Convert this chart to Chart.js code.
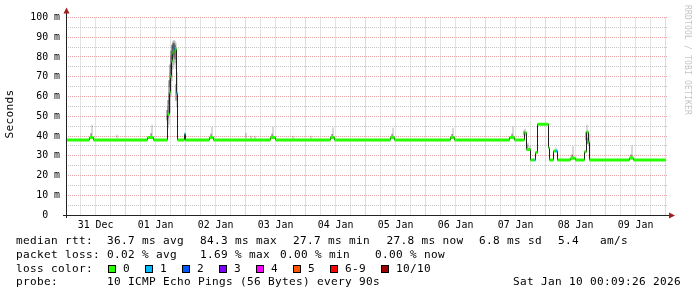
<!DOCTYPE html>
<html>
<head>
<meta charset="utf-8">
<script src="https://cdn.jsdelivr.net/npm/chart.js@4.4.1/dist/chart.umd.min.js"></script>
<style>
  html, body { margin: 0; padding: 0; background: #fff; }
  canvas { display: block; }
</style>
</head>
<body>
<canvas id="rtt" width="697" height="297"></canvas>
<script>
// times are hours since 31 Dec 00:00, values in ms
const startTime = 0.157;
const endTime = 240.157;
const lastSample = 239.96;

const dayLabels = ['31 Dec', '01 Jan', '02 Jan', '03 Jan', '04 Jan', '05 Jan', '06 Jan', '07 Jan', '08 Jan', '09 Jan'];

// median rtt, each value holds until the next time
const medianTime = [0.16, 9.56, 11.16, 32.76, 35.16,
  40.76, 41.56, 41.96, 42.36, 42.76, 43.16, 43.56, 43.96, 44.36, 44.76,
  47.56, 47.96, 57.56, 59.16, 81.96, 83.96, 105.96, 107.56, 129.96, 131.56,
  153.96, 155.56, 177.56, 179.56,
  183.56, 184.36, 185.96, 187.56, 187.96, 188.76, 193.16, 193.56, 195.16, 195.96, 196.76,
  201.96, 203.96, 207.56, 208.36, 209.16, 209.56, 225.56, 227.16];
const medianValue = [38, 39.3, 38, 39.3, 38,
  51, 62, 70, 78, 82, 83, 84.3, 84, 61.6, 38,
  41, 38, 39.3, 38, 39.3, 38, 39.3, 38, 39.3, 38,
  39.3, 38, 39.3, 38,
  41.7, 33.2, 27.8, 27.8, 31.6, 46, 34, 27.8, 32.4, 32.4, 27.8,
  28.7, 27.8, 32, 42, 37, 27.8, 28.8, 27.8];
const medianLoss = [0, 0, 0, 0, 0,
  0, 0, 0, 0, 0, 0, 1, 0, 1, 0,
  1, 0, 0, 0, 0, 0, 0, 0, 0, 0,
  0, 0, 0, 0,
  0, 0, 0, 1, 0, 0, 0, 0, 0, 1, 0,
  0, 0, 0, 0, 0, 0, 0, 0];

// smoke (spread of the pings)
const smokeTime = [10.36, 34.36, 58.36, 82.76, 106.76, 130.76, 154.76, 178.76, 202.76, 226.36,
  40.76, 41.16, 41.56, 41.96, 42.36, 42.76, 43.16, 43.56, 43.96, 44.36,
  20.36, 71.96, 73.96, 75.56, 90.76, 97.96,
  183.56, 184.76, 185.56, 195.96, 208.36, 209.16];
const smokeMin = [38.5, 38.5, 38.5, 38.5, 38.5, 38.5, 38.5, 38.5, 28.3, 28.3,
  44, 46, 52, 60, 68, 74, 76, 77, 74, 55,
  39, 39, 38.5, 38.5, 38.5, 38.5,
  40, 33, 33, 32, 36, 35];
const smokeMax = [45.5, 45.5, 44.4, 44.4, 44.2, 44, 44, 44.7, 34.6, 35,
  55, 62, 72, 80, 86, 88, 88.5, 88, 87, 72,
  40.5, 41.5, 40, 40, 40, 40,
  43.5, 36.5, 35, 34, 45.5, 41];
const smokeLow = [38.8, 38.8, 38.8, 38.8, 38.8, 38.8, 38.8, 38.8, 28.4, 28.4,
  48, 49, 56, 65, 72, 78, 80, 81, 79, 58,
  null, null, null, null, null, null,
  40.5, 33.5, null, null, 38, 36];
const smokeHigh = [41.2, 41.2, 41, 41, 40.8, 40.8, 40.8, 41, 30.5, 30.5,
  53, 58, 68, 76, 83, 86, 87, 87, 86, 66,
  null, null, null, null, null, null,
  42.5, 35.5, null, null, 42, 39];

const lossLabels = ['0', '1', '2', '3', '4', '5', '6-9', '10/10'];
const lossColors = ['#26ff00', '#00b8ff', '#0059ff', '#7e00ff', '#ff00ff', '#ff5500', '#ff0000', '#a00000'];

const yTicks = [0, 10, 20, 30, 40, 50, 60, 70, 80, 90, 100];

// data for the library
const medianLine = medianTime.map((t, i) => ({ x: t, y: medianValue[i] }));
medianLine.push({ x: lastSample, y: medianValue[medianValue.length - 1] });

const band = [];
medianTime.forEach((t, i) => {
  const t1 = i + 1 < medianTime.length ? medianTime[i + 1] : lastSample;
  band.push({ x: t, y: medianValue[i], loss: medianLoss[i] });
  band.push({ x: t1, y: medianValue[i], loss: medianLoss[i] });
});

const smokeOuter = smokeTime.map((t, i) => ({ x: t, y: [smokeMin[i], smokeMax[i]] }));
const smokeInner = [];
smokeTime.forEach((t, i) => {
  if (smokeLow[i] !== null) smokeInner.push({ x: t, y: [smokeLow[i], smokeHigh[i]] });
});

const mono = 'DejaVu Sans Mono';
const gridGray = 'rgb(198,198,198)';
const gridRed = 'rgb(232,164,164)';

// rrdtool puts mono glyphs on whole pixel steps
function monoText(ctx, s, x, y, step) {
  for (let i = 0; i < s.length; i++) ctx.fillText(s[i], x + i * step, y);
}

const grid = {
  id: 'grid',
  beforeDatasetsDraw(chart) {
    const ctx = chart.ctx;
    const a = chart.chartArea;
    const xs = chart.scales.x;
    const ys = chart.scales.y;
    ctx.save();
    ctx.lineWidth = 1;
    ctx.setLineDash([1, 1]);
    const pass = major => {
      ctx.strokeStyle = major ? gridRed : gridGray;
      ctx.beginPath();
      for (let h = 6; h <= 240; h += 6) {
        if ((h % 24 === 0) !== major) continue;
        const px = Math.round(xs.getPixelForValue(h) - 0.5) + 0.5;
        ctx.moveTo(px, a.top);
        ctx.lineTo(px, a.bottom);
      }
      for (let v = 5; v <= 100; v += 5) {
        if ((v % 10 === 0) !== major) continue;
        const py = Math.round(ys.getPixelForValue(v) - 0.5) + 0.5;
        ctx.moveTo(a.left, py);
        ctx.lineTo(a.right + 2, py);
      }
      ctx.stroke();
    };
    pass(false);
    pass(true);
    ctx.restore();
  }
};

const extras = {
  id: 'extras',
  afterDraw(chart) {
    const ctx = chart.ctx;
    const a = chart.chartArea;
    ctx.save();

    // axes
    ctx.strokeStyle = '#222';
    ctx.lineWidth = 1;
    ctx.beginPath();
    ctx.moveTo(a.left + 0.5, 13);
    ctx.lineTo(a.left + 0.5, a.bottom + 3);
    ctx.moveTo(a.left - 3, a.bottom + 0.5);
    ctx.lineTo(a.right + 3, a.bottom + 0.5);
    ctx.stroke();

    ctx.fillStyle = '#a51c1c';
    ctx.beginPath();
    ctx.moveTo(a.left + 0.5, 7.5);
    ctx.lineTo(a.left + 3.5, 13.5);
    ctx.lineTo(a.left - 2.5, 13.5);
    ctx.closePath();
    ctx.fill();
    ctx.beginPath();
    ctx.moveTo(a.right + 9, a.bottom + 0.5);
    ctx.lineTo(a.right + 3, a.bottom - 2.5);
    ctx.lineTo(a.right + 3, a.bottom + 3.5);
    ctx.closePath();
    ctx.fill();

    ctx.textAlign = 'left';
    ctx.textBaseline = 'middle';

    // y title
    ctx.fillStyle = '#000';
    ctx.font = '11.1px "' + mono + '"';
    ctx.save();
    ctx.translate(10.5, 114);
    ctx.rotate(-Math.PI / 2);
    monoText(ctx, 'Seconds', -24.5, 0, 7);
    ctx.restore();

    // watermark
    ctx.save();
    ctx.fillStyle = '#c4c4c4';
    ctx.font = '8px "' + mono + '"';
    ctx.translate(687.5, 5);
    ctx.rotate(Math.PI / 2);
    monoText(ctx, 'RRDTOOL / TOBI OETIKER', 0, 0, 5);
    ctx.restore();

    // legend
    ctx.font = '11.1px "' + mono + '"';
    const rows = [
      [241.5, [[16, 'median rtt:'], [107, '36.7 ms avg'], [200, '84.3 ms max'], [293, '27.7 ms min'],
        [386.5, '27.8 ms now'], [479, '6.8 ms sd'], [558, '5.4'], [600, 'am/s']]],
      [255, [[16, 'packet loss:'], [107, '0.02 % avg'], [200, '1.69 % max'], [280, '0.00 % min'], [375, '0.00 % now']]],
      [269, [[16, 'loss color:']]],
      [282.5, [[16, 'probe:'], [107, '10 ICMP Echo Pings (56 Bytes) every 90s'], [513, 'Sat Jan 10 00:09:26 2026']]]
    ];
    rows.forEach(([y, parts]) => parts.forEach(([x, s]) => monoText(ctx, s, x, y, 7)));

    const boxX = [108, 145, 182, 219, 256, 293, 330, 381];
    lossLabels.forEach((lab, i) => {
      const bx = boxX[i];
      ctx.fillStyle = lossColors[i];
      ctx.fillRect(bx, 265, 8, 8);
      ctx.strokeStyle = '#000';
      ctx.strokeRect(bx + 0.5, 265.5, 7, 7);
      ctx.fillStyle = '#000';
      monoText(ctx, lab, bx + 15, 269, 7);
    });

    ctx.restore();
  }
};

new Chart(document.getElementById('rtt'), {
  type: 'line',
  data: {
    datasets: [
      {
        data: band,
        borderWidth: 3,
        borderCapStyle: 'butt',
        pointRadius: 0,
        order: 0,
        segment: {
          borderColor: c => (c.p0.parsed.y !== c.p1.parsed.y ? 'rgba(0,0,0,0)' : lossColors[band[c.p0DataIndex].loss])
        }
      },
      {
        data: medianLine,
        stepped: true,
        borderColor: '#202020',
        borderWidth: 1,
        pointRadius: 0,
        order: 1
      },
      {
        type: 'bar',
        data: smokeInner,
        backgroundColor: 'rgba(0,0,0,0.36)',
        barThickness: 1,
        order: 2
      },
      {
        type: 'bar',
        data: smokeOuter,
        backgroundColor: 'rgba(0,0,0,0.18)',
        barThickness: 1,
        order: 3
      }
    ]
  },
  options: {
    responsive: false,
    animation: false,
    devicePixelRatio: 1,
    layout: { padding: { left: 0, right: 31, top: 17.5, bottom: 0 } },
    plugins: { legend: { display: false }, tooltip: { enabled: false } },
    scales: {
      x: {
        type: 'linear',
        min: startTime,
        max: endTime,
        offset: false,
        afterBuildTicks: s => {
          const t = [];
          for (let h = 12; h <= 240; h += 24) t.push({ value: h });
          s.ticks = t;
        },
        afterFit: s => { s.height = 82; },
        grid: { display: false, drawTicks: false },
        border: { display: false },
        ticks: {
          autoSkip: false,
          maxRotation: 0,
          minRotation: 0,
          padding: 4,
          color: '#000',
          font: { family: mono, size: 9.9 },
          callback: v => dayLabels[(v - 12) / 24]
        }
      },
      y: {
        min: 0,
        max: 100,
        afterBuildTicks: s => {
          s.ticks = yTicks.map(v => ({ value: v }));
        },
        afterFit: s => { s.width = 66; },
        grid: { display: false, drawTicks: false },
        border: { display: false },
        ticks: {
          padding: 6,
          color: '#000',
          font: { family: mono, size: 9.9 },
          callback: v => (v === 0 ? '0  ' : v + ' m')
        }
      }
    }
  },
  plugins: [grid, extras]
});
</script>
</body>
</html>
